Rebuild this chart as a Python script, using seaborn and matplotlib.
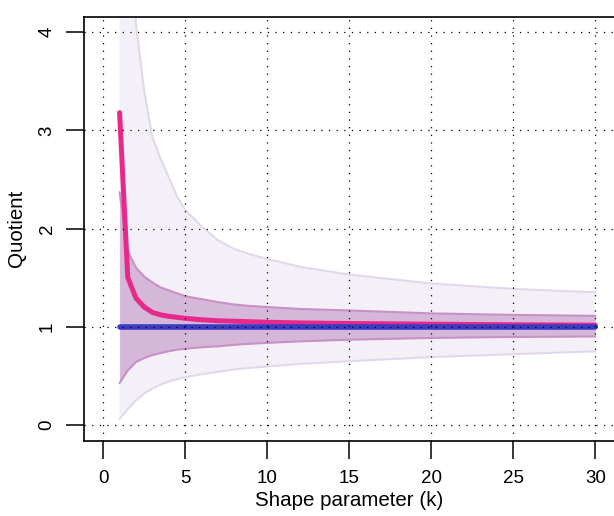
import matplotlib
matplotlib.use("Agg")
import matplotlib.pyplot as plt
import numpy as np
import pandas as pd
import seaborn as sns

# ---- data ----
k_band = [1, 1.5, 2, 2.5, 3, 3.5, 4, 4.5, 5, 6, 7, 8, 9, 10, 12, 15, 20, 25, 30]
outer_high = [14.0, 6.2, 4.08, 3.40, 2.93, 2.71, 2.52, 2.33, 2.19, 2.02, 1.88, 1.79,
              1.735, 1.69, 1.61, 1.53, 1.44, 1.385, 1.35]
inner_high = [2.37, 1.77, 1.60, 1.51, 1.45, 1.40, 1.37, 1.34, 1.31, 1.28, 1.25, 1.225,
              1.21, 1.20, 1.18, 1.165, 1.135, 1.12, 1.11]
inner_low = [0.425, 0.555, 0.64, 0.68, 0.71, 0.73, 0.75, 0.765, 0.775, 0.79, 0.80, 0.815,
             0.826, 0.835, 0.85, 0.867, 0.885, 0.895, 0.90]
outer_low = [0.06, 0.16, 0.25, 0.32, 0.37, 0.41, 0.44, 0.465, 0.485, 0.515, 0.54, 0.565,
             0.58, 0.595, 0.62, 0.648, 0.69, 0.72, 0.748]

k_line = [1, 1.5, 2, 2.5, 3, 3.5, 4, 5, 6, 7, 8, 10, 12, 15, 20, 25, 30]
mean_quotient = [3.18, 1.50, 1.29, 1.20, 1.145, 1.12, 1.105, 1.085, 1.07, 1.06, 1.055,
                 1.045, 1.038, 1.032, 1.025, 1.019, 1.015]
median_quotient = [1.0] * len(k_line)

x_ticks = [0, 5, 10, 15, 20, 25, 30]
y_ticks = [0, 1, 2, 3, 4]

bands = pd.DataFrame({"k": k_band, "olo": outer_low, "ohi": outer_high,
                      "ilo": inner_low, "ihi": inner_high})
lines = pd.DataFrame({"k": k_line, "mean": mean_quotient, "median": median_quotient})

sns.set_theme(style="white")
plt.rcParams['font.family'] = ['Liberation Sans', 'DejaVu Sans']
plt.rcParams.update({
    'lines.scale_dashes': False,
    'xtick.bottom': True, 'ytick.left': True,
    'xtick.direction': 'out', 'ytick.direction': 'out',
    'xtick.major.size': 13, 'ytick.major.size': 13,
    'xtick.major.width': 1.1, 'ytick.major.width': 1.1,
    'xtick.color': 'black', 'ytick.color': 'black',
    'xtick.labelcolor': 'black', 'ytick.labelcolor': 'black',
    'xtick.labelsize': 13.5, 'ytick.labelsize': 13.5,
    'xtick.major.pad': 8, 'ytick.major.pad': 7,
    'axes.labelcolor': 'black',
})

fig = plt.figure(figsize=(6.14, 5.16), dpi=100)
ax = fig.add_axes([83.5 / 614, 75.5 / 516, 531.5 / 614, 424 / 516])

# outer band
ax.fill_between(bands["k"], bands["olo"], bands["ohi"], color="#F4F0F8", lw=0, zorder=1)
sns.lineplot(data=bands, x="k", y="olo", ax=ax, color="#E2D8EC", lw=1.5, zorder=1.2)
sns.lineplot(data=bands, x="k", y="ohi", ax=ax, color="#E2D8EC", lw=1.5, zorder=1.2)
# inner band
ax.fill_between(bands["k"], bands["ilo"], bands["ihi"], color="#D5B8D9", lw=0, zorder=1.4)
sns.lineplot(data=bands, x="k", y="ilo", ax=ax, color="#C890C6", lw=1.5, zorder=1.6)
sns.lineplot(data=bands, x="k", y="ihi", ax=ax, color="#C890C6", lw=1.5, zorder=1.6)
# lines
sns.lineplot(data=lines, x="k", y="mean", ax=ax, color="#E7298A", lw=3.6, zorder=2)
sns.lineplot(data=lines, x="k", y="median", ax=ax, color="#3A3AC4", lw=4, zorder=2.1)

ax.set_xlim(-1.2, 31.2)
ax.set_ylim(-0.16, 4.16)
ax.set_xticks(x_ticks)
ax.set_yticks(y_ticks)
ax.set_xticklabels([str(v) for v in x_ticks])
ax.set_yticklabels([str(v) for v in y_ticks], rotation=90, va="center")

# dotted reference grid drawn on top of the data, at the tick positions
grid_style = dict(color="black", linestyle=(0, (0.9, 4.6)), linewidth=0.9, zorder=3)
for xv in x_ticks:
    ax.axvline(xv, **grid_style)
for yv in y_ticks:
    ax.axhline(yv, **grid_style)

for s in ax.spines.values():
    s.set_color("black")
    s.set_linewidth(1.2)

ax.set_xlabel("Shape parameter (k)", fontsize=14.8, labelpad=3)
ax.set_ylabel("Quotient", fontsize=14.8, labelpad=9)

fig.savefig("out.png", dpi=100)
